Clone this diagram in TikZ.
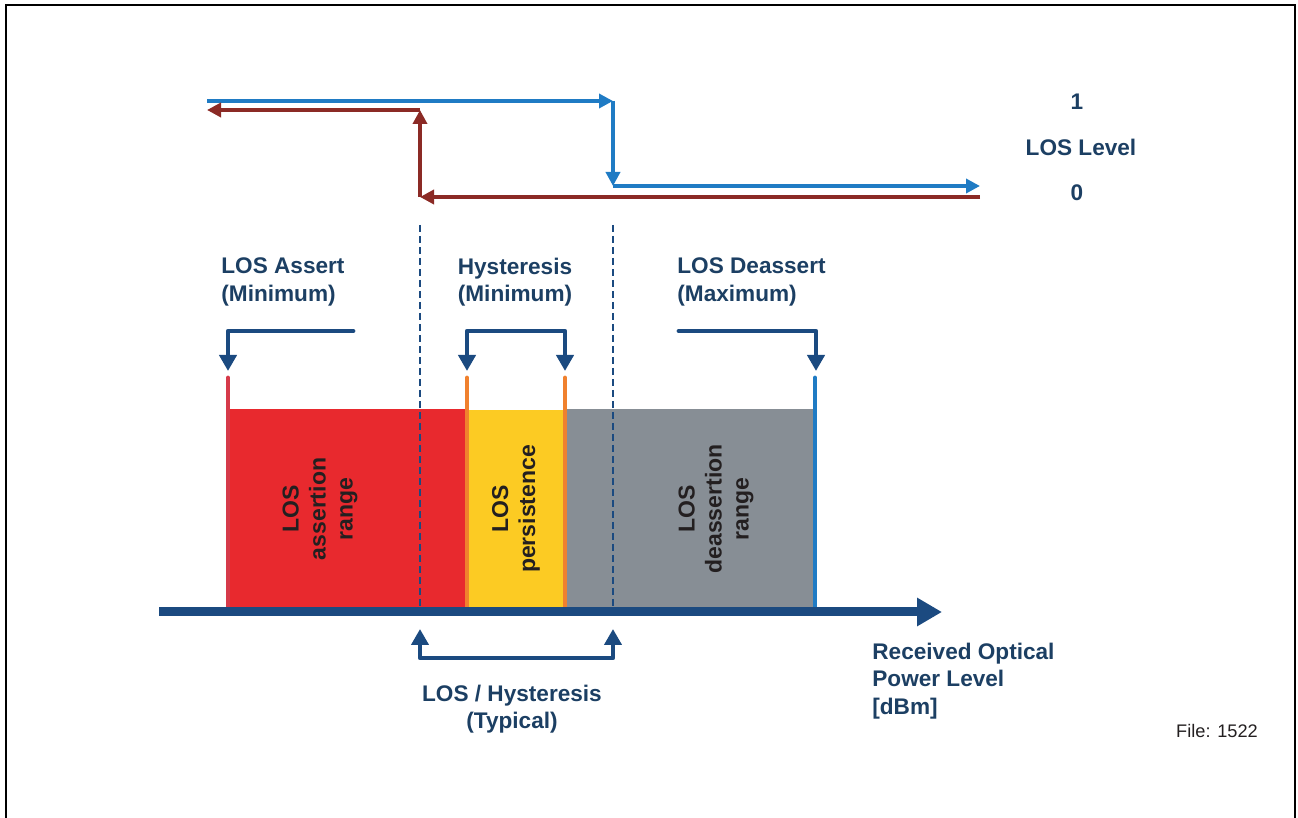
\documentclass[tikz,border=0pt]{standalone}
\usepackage{fontspec}
\setmainfont{Liberation Sans}
\usepackage{tikz}
\usetikzlibrary{arrows.meta}
\usetikzlibrary{positioning}
\definecolor{navy}{HTML}{1C3F63}
\definecolor{darkblue}{HTML}{1B4A80}
\definecolor{sigblue}{HTML}{1F7BC4}
\definecolor{sigred}{HTML}{8B2A25}
\definecolor{rangered}{HTML}{E8292E}
\definecolor{edgered}{HTML}{D63A4A}
\definecolor{persyellow}{HTML}{FCCB23}
\definecolor{deassgray}{HTML}{878E95}
\definecolor{edgeorange}{HTML}{F0812E}
\definecolor{ink}{HTML}{231F20}
\tikzstyle{lbl}      = [font=\bfseries\fontsize{11.3}{13.8}\selectfont,text=navy,inner sep=0pt]
\tikzstyle{rangetxt} = [font=\bfseries\fontsize{11.5}{13.5}\selectfont,text=ink,inner sep=0pt,align=center,rotate=90]
\tikzstyle{level}    = [line width=2pt,-{Triangle[length=7pt,width=7pt]}]
\tikzstyle{brace}    = [draw=darkblue,line width=2.4pt,line cap=round,line join=round]
\tikzstyle{limit}    = [line width=2.4pt,line cap=round]
\tikzstyle{guide}    = [draw=darkblue,line width=1.3pt,dash pattern=on 3.5pt off 2pt]

\begin{document}
\begin{tikzpicture}[x=0.5pt,y=-0.5pt,>={Triangle[length=8pt,width=8.5pt]}]
\useasboundingbox (0,0) rectangle (1298,818);

% frame, open at the bottom
\draw[line width=1.2pt] (6,818) -- (6,5) -- (1295,5) -- (1295,818);

% LOS level signal
\coordinate (b1) at (207,101);
\coordinate (b2) at (613,101);
\coordinate (b3) at (613,186);
\coordinate (b4) at (980,186);
\coordinate (r1) at (980,197);
\coordinate (r2) at (420,197);
\coordinate (r3) at (420,110);
\coordinate (r4) at (207,110);
\draw[level,sigblue] (b1) -- (b2);
\draw[level,sigblue] (b2) -- (b3);
\draw[level,sigblue] (b3) -- (b4);
\draw[level,sigred] (r1) -- (r2);
\draw[level,sigred] (r2) -- (r3);
\draw[level,sigred] (r3) -- (r4);

\node[lbl] (lvl) at (1081,147) {LOS Level};
\node[lbl][above=14pt of lvl.north,anchor=south,xshift=-2pt] (one) {1};
\node[lbl][below=14.5pt of lvl.south,anchor=north,xshift=-2pt] (zero) {0};

% ranges
\fill[rangered] (228,409) rectangle (467,610);
\fill[persyellow] (467,410) rectangle (565,610);
\fill[deassgray] (565,409) rectangle (815,610);

\node[rangetxt] (asr) at (320,509) {LOS\\assertion\\range};
\node[rangetxt] (pers) at (516,509) {LOS\\persistence};
\node[rangetxt] (deasr) at (716,509) {LOS\\deassertion\\range};

\foreach \x in {420,613}
  \draw[guide] (\x,225) -- (\x,608);

\draw[limit,edgered] (228,378) -- (228,609);
\draw[limit,edgeorange] (467,378) -- (467,609);
\draw[limit,edgeorange] (565,378) -- (565,609);
\draw[limit,sigblue] (815,378) -- (815,609);

% power axis
\coordinate (ax0) at (159,612);
\coordinate (ax1) at (942,612);
\draw[darkblue,line width=4.5pt,-{Triangle[length=12.5pt,width=13.5pt]}] (ax0) -- (ax1);

% labels and braces
\node[lbl,anchor=west,align=left] (assert) at (221,282) {LOS Assert\\(Minimum)};
\node[lbl,align=center] (hyst) at (515,282) {Hysteresis\\(Minimum)};
\node[lbl,anchor=west,align=left] (deassert) at (677,282) {LOS Deassert\\(Maximum)};
\node[lbl,align=center] (typ) at (512,709) {LOS / Hysteresis\\(Typical)};
\node[lbl,anchor=west,align=left] (power) at (872,681) {Received Optical\\Power Level\\{[dBm]}};
\node[font=\fontsize{9.1}{11}\selectfont,text=ink,inner sep=0pt] (file) at (1217,731) {File: 1522};

\coordinate (aL) at (353,331);
\coordinate (aT) at (228,371);
\coordinate (hL) at (467,371);
\coordinate (hR) at (565,371);
\coordinate (dL) at (679,331);
\coordinate (dT) at (816,371);
\coordinate (tL) at (420,629);
\coordinate (tR) at (613,629);
\draw[brace,->] (aL) -| (aT);
\draw[brace,<->] (hL) |- (516,331) -| (hR);
\draw[brace,->] (dL) -| (dT);
\draw[brace,<->] (tL) |- (516,658) -| (tR);

\end{tikzpicture}
\end{document}
